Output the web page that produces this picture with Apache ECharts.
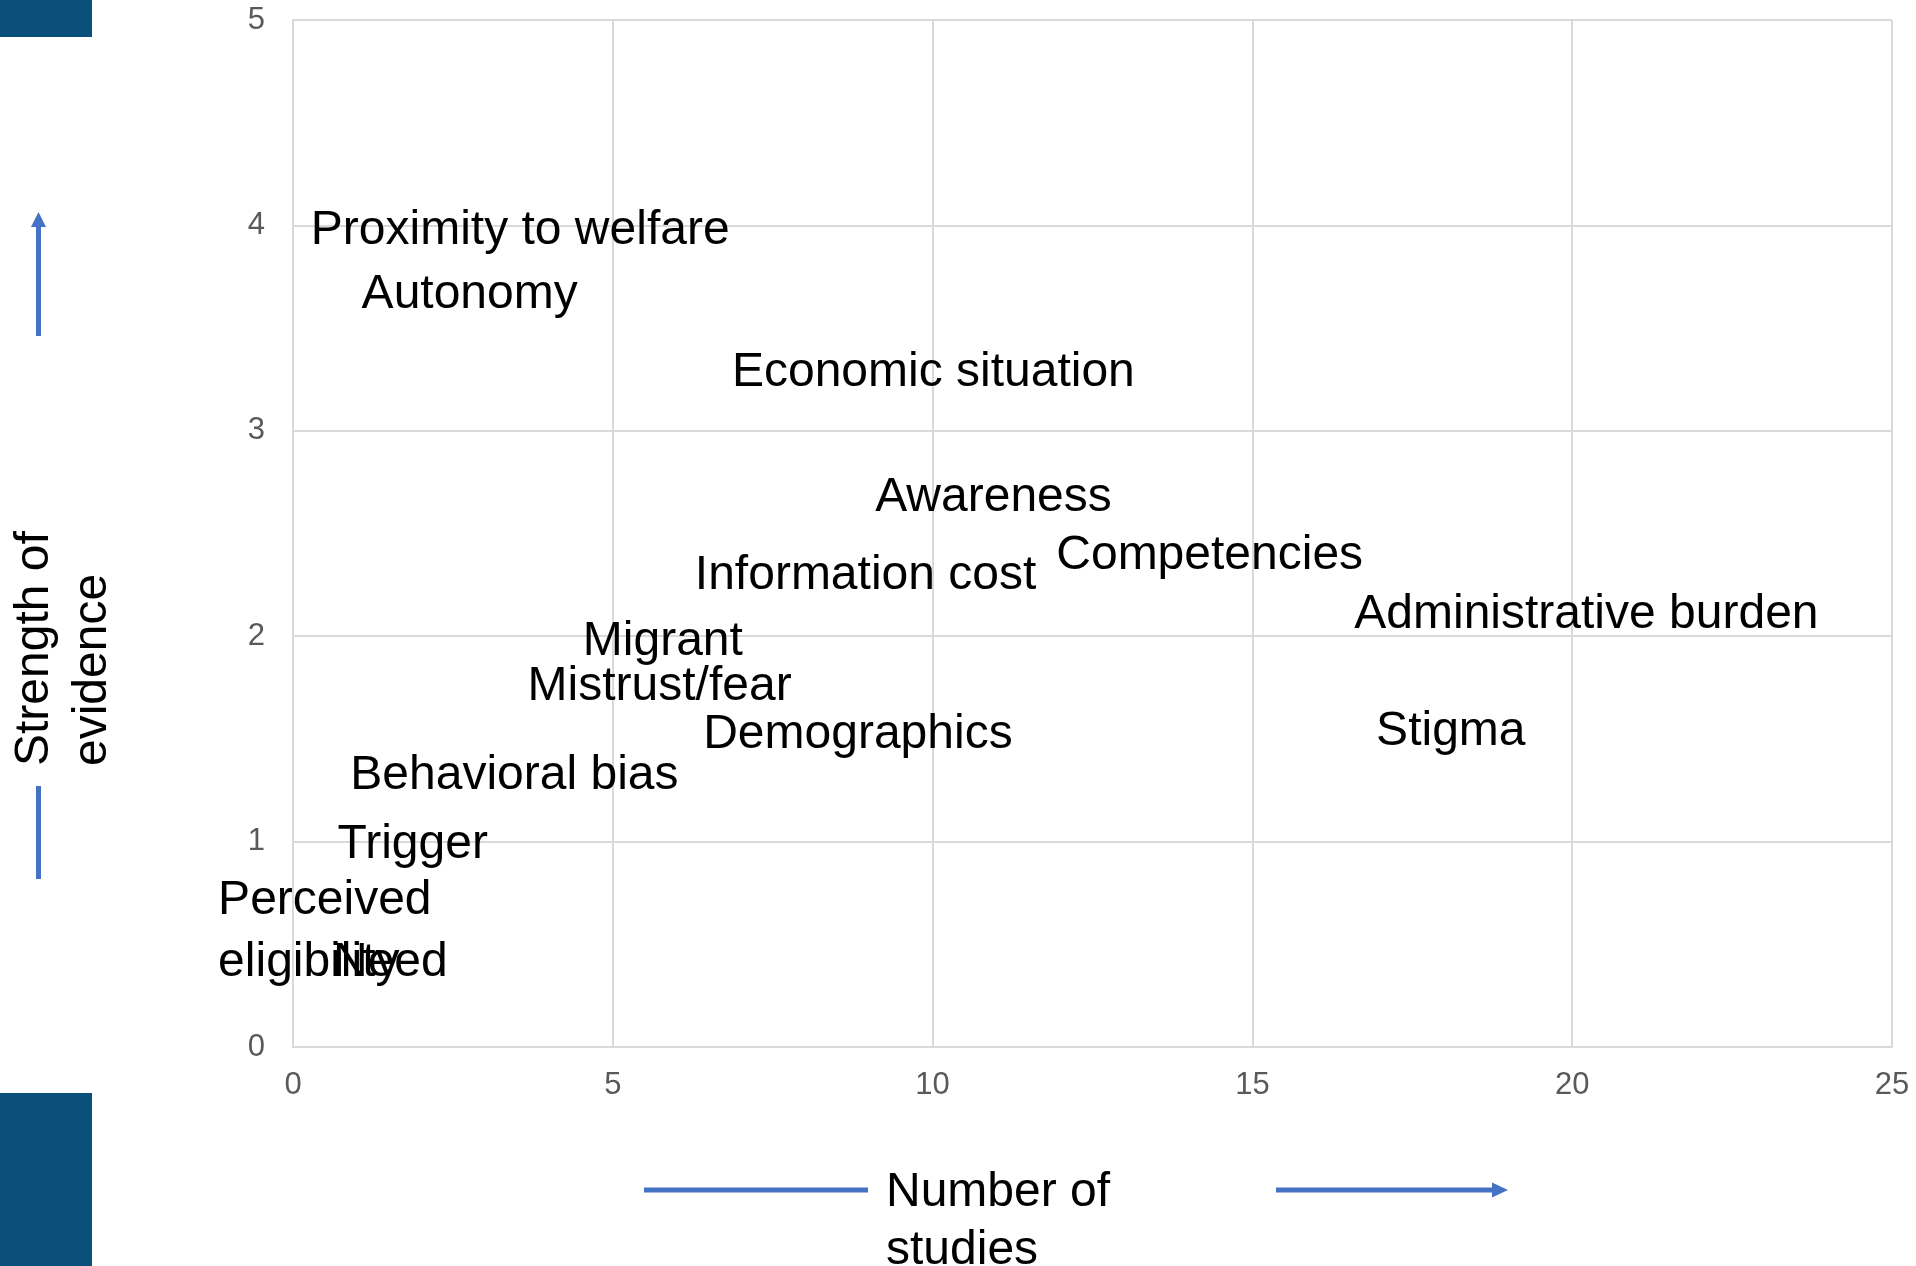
<!DOCTYPE html>
<html>
<head>
<meta charset="utf-8">
<script src="https://cdn.jsdelivr.net/npm/echarts@6/dist/echarts.min.js"></script>
<style>
  html, body { margin: 0; padding: 0; background: #ffffff; }
  #chart { width: 1916px; height: 1266px; }
</style>
</head>
<body>
<div id="chart"></div>
<script>
// Factors: number of studies (x) against strength of evidence (y)
const factorNames = [
  'Proximity to welfare', 'Autonomy', 'Economic situation', 'Awareness',
  'Competencies', 'Information cost', 'Administrative burden', 'Migrant',
  'Mistrust/fear', 'Demographics', 'Stigma', 'Behavioral bias', 'Trigger',
  'Perceived\neligibility', 'Need'
];
const numberOfStudies = [3.56, 2.77, 10.02, 10.96, 14.34, 8.96, 20.23, 5.79, 5.74, 8.84, 18.11, 3.47, 1.88, 0.51, 1.53];
const strengthOfEvidence = [3.97, 3.66, 3.28, 2.67, 2.39, 2.29, 2.10, 1.97, 1.75, 1.52, 1.53, 1.32, 0.98, 0.56, 0.41];

const xTicks = [0, 5, 10, 15, 20, 25];
const yTicks = [0, 1, 2, 3, 4, 5];

const FONT = "'Liberation Sans', Arial, Helvetica, sans-serif";
const ARROW = '#4472C4';
const BAND = '#0a4f7a';

const points = factorNames.map((n, i) => ({ name: n, value: [numberOfStudies[i], strengthOfEvidence[i]] }));

const chart = echarts.init(document.getElementById('chart'), null, { renderer: 'canvas' });

chart.setOption({
  backgroundColor: '#ffffff',
  animation: false,
  grid: { left: 293, right: 24, top: 20, bottom: 219, containLabel: false },
  xAxis: {
    type: 'value',
    min: xTicks[0], max: xTicks[xTicks.length - 1], interval: 5,
    axisLine: { show: true, lineStyle: { color: '#d9d9d9', width: 2 } },
    axisTick: { show: false },
    axisLabel: { color: '#595959', fontSize: 31, fontFamily: FONT, margin: 23 },
    splitLine: { show: true, lineStyle: { color: '#d9d9d9', width: 2 } }
  },
  yAxis: {
    type: 'value',
    min: yTicks[0], max: yTicks[yTicks.length - 1], interval: 1,
    axisLine: { show: true, lineStyle: { color: '#d9d9d9', width: 2 } },
    axisTick: { show: false },
    axisLabel: { color: '#595959', fontSize: 31, fontFamily: FONT, margin: 28 },
    splitLine: { show: true, lineStyle: { color: '#d9d9d9', width: 2 } }
  },
  series: [{
    type: 'scatter',
    data: points,
    symbol: 'circle',
    symbolSize: 1,
    itemStyle: { color: '#ffffff', opacity: 0 },
    label: {
      show: true,
      position: [0, 0],
      align: 'center',
      verticalAlign: 'middle',
      color: '#000000',
      opacity: 1,
      textBorderWidth: 0,
      fontSize: 48,
      fontFamily: FONT,
      formatter: p => p.name.indexOf('\n') >= 0
        ? p.name.split('\n').map(s => '{w|' + s + '}').join('\n')
        : p.name,
      rich: {
        w: { width: 214, align: 'left', fontSize: 48, fontFamily: FONT, color: '#000000', lineHeight: 62 }
      }
    },
    emphasis: { disabled: true },
    z: 5
  }],
  graphic: [
    // dark bands at the left edge
    { type: 'rect', shape: { x: 0, y: 0, width: 92, height: 37 }, style: { fill: BAND }, silent: true },
    { type: 'rect', shape: { x: 0, y: 1093, width: 92, height: 173 }, style: { fill: BAND }, silent: true },
    // vertical axis arrow
    { type: 'line', shape: { x1: 38.5, y1: 336, x2: 38.5, y2: 224 }, style: { stroke: ARROW, lineWidth: 5 }, silent: true },
    { type: 'polygon', shape: { points: [[31, 227], [46, 227], [38.5, 212]] }, style: { fill: ARROW }, silent: true },
    { type: 'line', shape: { x1: 38.5, y1: 786, x2: 38.5, y2: 879 }, style: { stroke: ARROW, lineWidth: 5 }, silent: true },
    // horizontal axis arrow
    { type: 'line', shape: { x1: 644, y1: 1190, x2: 868, y2: 1190 }, style: { stroke: ARROW, lineWidth: 5 }, silent: true },
    { type: 'line', shape: { x1: 1276, y1: 1190, x2: 1494, y2: 1190 }, style: { stroke: ARROW, lineWidth: 5 }, silent: true },
    { type: 'polygon', shape: { points: [[1492, 1182.5], [1492, 1197.5], [1508, 1190]] }, style: { fill: ARROW }, silent: true },
    // axis titles
    {
      type: 'text', x: 64, y: 766, rotation: Math.PI / 2, silent: true,
      style: {
        text: 'Strength of\nevidence', fill: '#000000',
        font: '48px ' + FONT, lineHeight: 58,
        align: 'left', verticalAlign: 'middle',
        textAlign: 'left', textVerticalAlign: 'middle'
      }
    },
    {
      type: 'text', x: 886, y: 1221.5, silent: true,
      style: {
        text: 'Number of\nstudies', fill: '#000000',
        font: '48px ' + FONT, lineHeight: 58,
        align: 'left', verticalAlign: 'middle',
        textAlign: 'left', textVerticalAlign: 'middle'
      }
    }
  ]
});
</script>
</body>
</html>
